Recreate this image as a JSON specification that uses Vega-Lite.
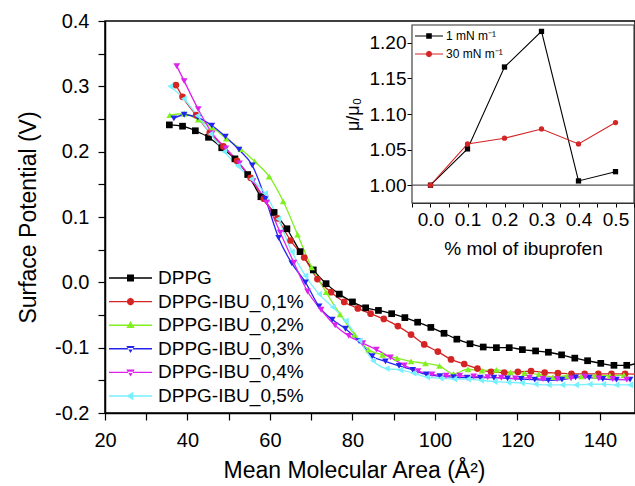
{
  "$schema": "https://vega.github.io/schema/vega-lite/v6.json",
  "width": 530,
  "height": 392,
  "autosize": "none",
  "padding": {"left": 105, "top": 21, "right": 0, "bottom": 73},
  "config": {
    "font": "Liberation Sans",
    "view": {"stroke": "black", "strokeWidth": 1.5},
    "axis": {"domainColor": "black", "domainWidth": 1.5, "tickColor": "black", "tickWidth": 1.2, "labelColor": "black", "titleColor": "black", "titleFontWeight": "normal", "grid": false, "labelFont": "Liberation Sans", "titleFont": "Liberation Sans", "labelOverlap": false, "labelFlush": false},
    "legend": {"labelFont": "Liberation Sans", "padding": 0, "labelColor": "black"}
  },
  "datasets": {
    "main": [
      {"series": "DPPG", "area": 35.6, "potential": 0.241},
      {"series": "DPPG", "area": 38.8, "potential": 0.239},
      {"series": "DPPG", "area": 41.9, "potential": 0.232},
      {"series": "DPPG", "area": 45.1, "potential": 0.222},
      {"series": "DPPG", "area": 48.3, "potential": 0.206},
      {"series": "DPPG", "area": 51.5, "potential": 0.189},
      {"series": "DPPG", "area": 54.6, "potential": 0.165},
      {"series": "DPPG", "area": 57.8, "potential": 0.131},
      {"series": "DPPG", "area": 61.0, "potential": 0.107},
      {"series": "DPPG", "area": 64.1, "potential": 0.082},
      {"series": "DPPG", "area": 67.3, "potential": 0.047},
      {"series": "DPPG", "area": 70.5, "potential": 0.019},
      {"series": "DPPG", "area": 73.6, "potential": -0.002},
      {"series": "DPPG", "area": 76.8, "potential": -0.018},
      {"series": "DPPG", "area": 80.0, "potential": -0.030},
      {"series": "DPPG", "area": 83.2, "potential": -0.039},
      {"series": "DPPG", "area": 86.3, "potential": -0.043},
      {"series": "DPPG", "area": 89.5, "potential": -0.048},
      {"series": "DPPG", "area": 92.7, "potential": -0.054},
      {"series": "DPPG", "area": 95.8, "potential": -0.061},
      {"series": "DPPG", "area": 99.0, "potential": -0.069},
      {"series": "DPPG", "area": 102.2, "potential": -0.078},
      {"series": "DPPG", "area": 105.3, "potential": -0.087},
      {"series": "DPPG", "area": 108.5, "potential": -0.094},
      {"series": "DPPG", "area": 111.7, "potential": -0.099},
      {"series": "DPPG", "area": 114.9, "potential": -0.100},
      {"series": "DPPG", "area": 118.0, "potential": -0.100},
      {"series": "DPPG", "area": 121.2, "potential": -0.103},
      {"series": "DPPG", "area": 124.4, "potential": -0.105},
      {"series": "DPPG", "area": 127.5, "potential": -0.107},
      {"series": "DPPG", "area": 130.7, "potential": -0.111},
      {"series": "DPPG", "area": 133.9, "potential": -0.116},
      {"series": "DPPG", "area": 137.0, "potential": -0.120},
      {"series": "DPPG", "area": 140.2, "potential": -0.124},
      {"series": "DPPG", "area": 143.4, "potential": -0.127},
      {"series": "DPPG", "area": 146.5, "potential": -0.127},
      {"series": "DPPG", "area": 149.7, "potential": -0.122},

      {"series": "DPPG-IBU_0,1%", "area": 37.2, "potential": 0.302},
      {"series": "DPPG-IBU_0,1%", "area": 38.8, "potential": 0.284},
      {"series": "DPPG-IBU_0,1%", "area": 42.1, "potential": 0.256},
      {"series": "DPPG-IBU_0,1%", "area": 45.4, "potential": 0.229},
      {"series": "DPPG-IBU_0,1%", "area": 48.7, "potential": 0.208},
      {"series": "DPPG-IBU_0,1%", "area": 52.0, "potential": 0.186},
      {"series": "DPPG-IBU_0,1%", "area": 55.3, "potential": 0.160},
      {"series": "DPPG-IBU_0,1%", "area": 58.5, "potential": 0.128},
      {"series": "DPPG-IBU_0,1%", "area": 61.8, "potential": 0.098},
      {"series": "DPPG-IBU_0,1%", "area": 65.0, "potential": 0.064},
      {"series": "DPPG-IBU_0,1%", "area": 68.3, "potential": 0.038},
      {"series": "DPPG-IBU_0,1%", "area": 71.5, "potential": 0.005},
      {"series": "DPPG-IBU_0,1%", "area": 74.8, "potential": -0.015},
      {"series": "DPPG-IBU_0,1%", "area": 78.0, "potential": -0.030},
      {"series": "DPPG-IBU_0,1%", "area": 81.3, "potential": -0.040},
      {"series": "DPPG-IBU_0,1%", "area": 84.4, "potential": -0.048},
      {"series": "DPPG-IBU_0,1%", "area": 87.6, "potential": -0.056},
      {"series": "DPPG-IBU_0,1%", "area": 91.0, "potential": -0.067},
      {"series": "DPPG-IBU_0,1%", "area": 94.2, "potential": -0.080},
      {"series": "DPPG-IBU_0,1%", "area": 97.4, "potential": -0.095},
      {"series": "DPPG-IBU_0,1%", "area": 100.7, "potential": -0.106},
      {"series": "DPPG-IBU_0,1%", "area": 103.9, "potential": -0.118},
      {"series": "DPPG-IBU_0,1%", "area": 107.1, "potential": -0.125},
      {"series": "DPPG-IBU_0,1%", "area": 110.3, "potential": -0.132},
      {"series": "DPPG-IBU_0,1%", "area": 113.6, "potential": -0.137},
      {"series": "DPPG-IBU_0,1%", "area": 116.8, "potential": -0.138},
      {"series": "DPPG-IBU_0,1%", "area": 120.1, "potential": -0.137},
      {"series": "DPPG-IBU_0,1%", "area": 123.3, "potential": -0.136},
      {"series": "DPPG-IBU_0,1%", "area": 126.6, "potential": -0.138},
      {"series": "DPPG-IBU_0,1%", "area": 129.8, "potential": -0.139},
      {"series": "DPPG-IBU_0,1%", "area": 133.1, "potential": -0.140},
      {"series": "DPPG-IBU_0,1%", "area": 136.3, "potential": -0.140},
      {"series": "DPPG-IBU_0,1%", "area": 139.6, "potential": -0.140},
      {"series": "DPPG-IBU_0,1%", "area": 142.8, "potential": -0.140},
      {"series": "DPPG-IBU_0,1%", "area": 146.1, "potential": -0.140},
      {"series": "DPPG-IBU_0,1%", "area": 149.3, "potential": -0.141},

      {"series": "DPPG-IBU_0,2%", "area": 35.7, "potential": 0.256},
      {"series": "DPPG-IBU_0,2%", "area": 39.2, "potential": 0.258},
      {"series": "DPPG-IBU_0,2%", "area": 42.6, "potential": 0.249},
      {"series": "DPPG-IBU_0,2%", "area": 46.0, "potential": 0.237},
      {"series": "DPPG-IBU_0,2%", "area": 49.4, "potential": 0.220},
      {"series": "DPPG-IBU_0,2%", "area": 52.9, "potential": 0.204},
      {"series": "DPPG-IBU_0,2%", "area": 56.3, "potential": 0.185},
      {"series": "DPPG-IBU_0,2%", "area": 59.8, "potential": 0.162},
      {"series": "DPPG-IBU_0,2%", "area": 63.2, "potential": 0.124},
      {"series": "DPPG-IBU_0,2%", "area": 66.7, "potential": 0.073},
      {"series": "DPPG-IBU_0,2%", "area": 70.1, "potential": 0.023},
      {"series": "DPPG-IBU_0,2%", "area": 73.6, "potential": -0.015},
      {"series": "DPPG-IBU_0,2%", "area": 77.0, "potential": -0.049},
      {"series": "DPPG-IBU_0,2%", "area": 80.5, "potential": -0.080},
      {"series": "DPPG-IBU_0,2%", "area": 83.9, "potential": -0.103},
      {"series": "DPPG-IBU_0,2%", "area": 87.3, "potential": -0.111},
      {"series": "DPPG-IBU_0,2%", "area": 90.8, "potential": -0.116},
      {"series": "DPPG-IBU_0,2%", "area": 94.2, "potential": -0.121},
      {"series": "DPPG-IBU_0,2%", "area": 97.7, "potential": -0.124},
      {"series": "DPPG-IBU_0,2%", "area": 101.1, "potential": -0.128},
      {"series": "DPPG-IBU_0,2%", "area": 104.5, "potential": -0.140},
      {"series": "DPPG-IBU_0,2%", "area": 108.0, "potential": -0.133},
      {"series": "DPPG-IBU_0,2%", "area": 111.4, "potential": -0.135},
      {"series": "DPPG-IBU_0,2%", "area": 114.9, "potential": -0.134},
      {"series": "DPPG-IBU_0,2%", "area": 118.3, "potential": -0.138},
      {"series": "DPPG-IBU_0,2%", "area": 121.7, "potential": -0.139},
      {"series": "DPPG-IBU_0,2%", "area": 125.2, "potential": -0.141},
      {"series": "DPPG-IBU_0,2%", "area": 128.6, "potential": -0.145},
      {"series": "DPPG-IBU_0,2%", "area": 132.1, "potential": -0.143},
      {"series": "DPPG-IBU_0,2%", "area": 135.5, "potential": -0.144},
      {"series": "DPPG-IBU_0,2%", "area": 138.9, "potential": -0.143},
      {"series": "DPPG-IBU_0,2%", "area": 142.4, "potential": -0.143},
      {"series": "DPPG-IBU_0,2%", "area": 145.8, "potential": -0.142},

      {"series": "DPPG-IBU_0,3%", "area": 36.7, "potential": 0.251},
      {"series": "DPPG-IBU_0,3%", "area": 39.2, "potential": 0.2565},
      {"series": "DPPG-IBU_0,3%", "area": 42.5, "potential": 0.252},
      {"series": "DPPG-IBU_0,3%", "area": 45.9, "potential": 0.240},
      {"series": "DPPG-IBU_0,3%", "area": 49.2, "potential": 0.223},
      {"series": "DPPG-IBU_0,3%", "area": 52.5, "potential": 0.203},
      {"series": "DPPG-IBU_0,3%", "area": 55.7, "potential": 0.179},
      {"series": "DPPG-IBU_0,3%", "area": 58.9, "potential": 0.128},
      {"series": "DPPG-IBU_0,3%", "area": 62.1, "potential": 0.068},
      {"series": "DPPG-IBU_0,3%", "area": 65.3, "potential": 0.029},
      {"series": "DPPG-IBU_0,3%", "area": 68.6, "potential": 0.000},
      {"series": "DPPG-IBU_0,3%", "area": 71.9, "potential": -0.037},
      {"series": "DPPG-IBU_0,3%", "area": 75.1, "potential": -0.057},
      {"series": "DPPG-IBU_0,3%", "area": 78.3, "potential": -0.071},
      {"series": "DPPG-IBU_0,3%", "area": 81.6, "potential": -0.090},
      {"series": "DPPG-IBU_0,3%", "area": 84.8, "potential": -0.113},
      {"series": "DPPG-IBU_0,3%", "area": 88.0, "potential": -0.121},
      {"series": "DPPG-IBU_0,3%", "area": 91.3, "potential": -0.128},
      {"series": "DPPG-IBU_0,3%", "area": 94.6, "potential": -0.134},
      {"series": "DPPG-IBU_0,3%", "area": 97.9, "potential": -0.141},
      {"series": "DPPG-IBU_0,3%", "area": 101.2, "potential": -0.1435},
      {"series": "DPPG-IBU_0,3%", "area": 104.5, "potential": -0.145},
      {"series": "DPPG-IBU_0,3%", "area": 107.8, "potential": -0.146},
      {"series": "DPPG-IBU_0,3%", "area": 111.0, "potential": -0.146},
      {"series": "DPPG-IBU_0,3%", "area": 114.3, "potential": -0.146},
      {"series": "DPPG-IBU_0,3%", "area": 117.6, "potential": -0.147},
      {"series": "DPPG-IBU_0,3%", "area": 120.9, "potential": -0.148},
      {"series": "DPPG-IBU_0,3%", "area": 124.2, "potential": -0.149},
      {"series": "DPPG-IBU_0,3%", "area": 127.5, "potential": -0.150},
      {"series": "DPPG-IBU_0,3%", "area": 130.8, "potential": -0.149},
      {"series": "DPPG-IBU_0,3%", "area": 134.1, "potential": -0.1455},
      {"series": "DPPG-IBU_0,3%", "area": 137.4, "potential": -0.146},
      {"series": "DPPG-IBU_0,3%", "area": 140.7, "potential": -0.148},
      {"series": "DPPG-IBU_0,3%", "area": 144.0, "potential": -0.149},
      {"series": "DPPG-IBU_0,3%", "area": 147.3, "potential": -0.149},

      {"series": "DPPG-IBU_0,4%", "area": 37.4, "potential": 0.331},
      {"series": "DPPG-IBU_0,4%", "area": 39.2, "potential": 0.308},
      {"series": "DPPG-IBU_0,4%", "area": 42.6, "potential": 0.265},
      {"series": "DPPG-IBU_0,4%", "area": 46.0, "potential": 0.228},
      {"series": "DPPG-IBU_0,4%", "area": 49.3, "potential": 0.205},
      {"series": "DPPG-IBU_0,4%", "area": 52.6, "potential": 0.182},
      {"series": "DPPG-IBU_0,4%", "area": 55.9, "potential": 0.155},
      {"series": "DPPG-IBU_0,4%", "area": 59.2, "potential": 0.122},
      {"series": "DPPG-IBU_0,4%", "area": 62.5, "potential": 0.076},
      {"series": "DPPG-IBU_0,4%", "area": 65.8, "potential": 0.030},
      {"series": "DPPG-IBU_0,4%", "area": 69.1, "potential": -0.014},
      {"series": "DPPG-IBU_0,4%", "area": 72.4, "potential": -0.042},
      {"series": "DPPG-IBU_0,4%", "area": 75.8, "potential": -0.066},
      {"series": "DPPG-IBU_0,4%", "area": 79.1, "potential": -0.082},
      {"series": "DPPG-IBU_0,4%", "area": 82.5, "potential": -0.093},
      {"series": "DPPG-IBU_0,4%", "area": 85.8, "potential": -0.103},
      {"series": "DPPG-IBU_0,4%", "area": 89.2, "potential": -0.115},
      {"series": "DPPG-IBU_0,4%", "area": 92.6, "potential": -0.127},
      {"series": "DPPG-IBU_0,4%", "area": 95.9, "potential": -0.136},
      {"series": "DPPG-IBU_0,4%", "area": 99.3, "potential": -0.141},
      {"series": "DPPG-IBU_0,4%", "area": 102.7, "potential": -0.143},
      {"series": "DPPG-IBU_0,4%", "area": 106.0, "potential": -0.143},
      {"series": "DPPG-IBU_0,4%", "area": 109.4, "potential": -0.144},
      {"series": "DPPG-IBU_0,4%", "area": 112.8, "potential": -0.145},
      {"series": "DPPG-IBU_0,4%", "area": 116.1, "potential": -0.146},
      {"series": "DPPG-IBU_0,4%", "area": 119.5, "potential": -0.147},
      {"series": "DPPG-IBU_0,4%", "area": 122.9, "potential": -0.146},
      {"series": "DPPG-IBU_0,4%", "area": 126.2, "potential": -0.148},
      {"series": "DPPG-IBU_0,4%", "area": 129.6, "potential": -0.148},
      {"series": "DPPG-IBU_0,4%", "area": 133.0, "potential": -0.147},
      {"series": "DPPG-IBU_0,4%", "area": 136.4, "potential": -0.1445},
      {"series": "DPPG-IBU_0,4%", "area": 139.7, "potential": -0.147},
      {"series": "DPPG-IBU_0,4%", "area": 143.1, "potential": -0.148},
      {"series": "DPPG-IBU_0,4%", "area": 146.5, "potential": -0.149},

      {"series": "DPPG-IBU_0,5%", "area": 35.8, "potential": 0.300},
      {"series": "DPPG-IBU_0,5%", "area": 39.1, "potential": 0.281},
      {"series": "DPPG-IBU_0,5%", "area": 42.4, "potential": 0.255},
      {"series": "DPPG-IBU_0,5%", "area": 45.6, "potential": 0.227},
      {"series": "DPPG-IBU_0,5%", "area": 48.9, "potential": 0.200},
      {"series": "DPPG-IBU_0,5%", "area": 52.2, "potential": 0.178},
      {"series": "DPPG-IBU_0,5%", "area": 55.5, "potential": 0.158},
      {"series": "DPPG-IBU_0,5%", "area": 58.8, "potential": 0.136},
      {"series": "DPPG-IBU_0,5%", "area": 62.0, "potential": 0.097},
      {"series": "DPPG-IBU_0,5%", "area": 65.3, "potential": 0.047},
      {"series": "DPPG-IBU_0,5%", "area": 68.6, "potential": 0.010},
      {"series": "DPPG-IBU_0,5%", "area": 71.9, "potential": -0.018},
      {"series": "DPPG-IBU_0,5%", "area": 75.2, "potential": -0.038},
      {"series": "DPPG-IBU_0,5%", "area": 78.4, "potential": -0.059},
      {"series": "DPPG-IBU_0,5%", "area": 81.7, "potential": -0.089},
      {"series": "DPPG-IBU_0,5%", "area": 85.0, "potential": -0.120},
      {"series": "DPPG-IBU_0,5%", "area": 88.3, "potential": -0.132},
      {"series": "DPPG-IBU_0,5%", "area": 91.6, "potential": -0.134},
      {"series": "DPPG-IBU_0,5%", "area": 94.8, "potential": -0.139},
      {"series": "DPPG-IBU_0,5%", "area": 98.1, "potential": -0.145},
      {"series": "DPPG-IBU_0,5%", "area": 101.4, "potential": -0.147},
      {"series": "DPPG-IBU_0,5%", "area": 104.7, "potential": -0.148},
      {"series": "DPPG-IBU_0,5%", "area": 108.0, "potential": -0.148},
      {"series": "DPPG-IBU_0,5%", "area": 111.2, "potential": -0.150},
      {"series": "DPPG-IBU_0,5%", "area": 114.5, "potential": -0.152},
      {"series": "DPPG-IBU_0,5%", "area": 117.8, "potential": -0.153},
      {"series": "DPPG-IBU_0,5%", "area": 121.1, "potential": -0.154},
      {"series": "DPPG-IBU_0,5%", "area": 124.4, "potential": -0.156},
      {"series": "DPPG-IBU_0,5%", "area": 127.6, "potential": -0.157},
      {"series": "DPPG-IBU_0,5%", "area": 130.9, "potential": -0.157},
      {"series": "DPPG-IBU_0,5%", "area": 134.2, "potential": -0.157},
      {"series": "DPPG-IBU_0,5%", "area": 137.5, "potential": -0.156},
      {"series": "DPPG-IBU_0,5%", "area": 140.8, "potential": -0.156},
      {"series": "DPPG-IBU_0,5%", "area": 144.0, "potential": -0.157},
      {"series": "DPPG-IBU_0,5%", "area": 147.3, "potential": -0.157}
    ],
    "inset": [
      {"pressure": "1 mN m⁻¹", "mol": 0.0, "ratio": 1.000},
      {"pressure": "1 mN m⁻¹", "mol": 0.1, "ratio": 1.051},
      {"pressure": "1 mN m⁻¹", "mol": 0.2, "ratio": 1.166},
      {"pressure": "1 mN m⁻¹", "mol": 0.3, "ratio": 1.216},
      {"pressure": "1 mN m⁻¹", "mol": 0.4, "ratio": 1.006},
      {"pressure": "1 mN m⁻¹", "mol": 0.5, "ratio": 1.019},
      {"pressure": "30 mN m⁻¹", "mol": 0.0, "ratio": 1.000},
      {"pressure": "30 mN m⁻¹", "mol": 0.1, "ratio": 1.058},
      {"pressure": "30 mN m⁻¹", "mol": 0.2, "ratio": 1.066},
      {"pressure": "30 mN m⁻¹", "mol": 0.3, "ratio": 1.079},
      {"pressure": "30 mN m⁻¹", "mol": 0.4, "ratio": 1.058},
      {"pressure": "30 mN m⁻¹", "mol": 0.5, "ratio": 1.088}
    ]
  },
  "layer": [
    {
      "data": {"name": "main"},
      "encoding": {
        "x": {
          "field": "area", "type": "quantitative",
          "scale": {"domain": [20, 148.5], "nice": false, "zero": false},
          "axis": {
            "orient": "bottom",
            "values": [20, 30, 40, 50, 60, 70, 80, 90, 100, 110, 120, 130, 140],
            "labelExpr": "datum.value % 20 == 0 ? datum.label : ''",
            "tickSize": 7, "labelPadding": 10, "labelFontSize": 20,
            "title": "Mean Molecular Area (Å²)", "titleFontSize": 23, "titlePadding": 9, "titleX": 249,
            "encode": {"ticks": {"update": {"y2": {"signal": "datum.value % 20 == 0 ? 7 : 4"}}}}
          }
        },
        "y": {
          "field": "potential", "type": "quantitative",
          "scale": {"domain": [-0.2, 0.4], "nice": false, "zero": false},
          "axis": {
            "orient": "left",
            "values": [-0.2, -0.15, -0.1, -0.05, 0, 0.05, 0.1, 0.15, 0.2, 0.25, 0.3, 0.35, 0.4],
            "labelExpr": "abs(round(datum.value * 20)) % 2 == 0 ? replace(format(datum.value, '.1f'), '−', '-') : ''",
            "tickSize": 7, "labelPadding": 9, "labelFontSize": 20,
            "title": "Surface Potential (V)", "titleFontSize": 23, "titlePadding": 14,
            "encode": {"ticks": {"update": {"x2": {"signal": "abs(round(datum.value * 20)) % 2 == 0 ? -7 : -4"}}}}
          }
        }
      },
      "layer": [
        {
          "mark": {"type": "line", "clip": true, "strokeWidth": 1.3, "interpolate": "monotone"},
          "encoding": {
            "color": {
              "field": "series", "type": "nominal",
              "scale": {
                "domain": ["DPPG", "DPPG-IBU_0,1%", "DPPG-IBU_0,2%", "DPPG-IBU_0,3%", "DPPG-IBU_0,4%", "DPPG-IBU_0,5%"],
                "range": ["#000000", "#d42424", "#80f020", "#2424f0", "#dd22ee", "#78f0ff"]
              },
              "legend": {
                "orient": "none", "legendX": 16, "legendY": 247.5, "title": null,
                "labelFontSize": 19, "labelOffset": 18, "rowPadding": 3.6, "symbolSize": 16, "symbolStrokeWidth": 0,
                "encode": {
                  "symbols": {
                    "update": {
                      "shape": {"signal": "['M-10.75,-0.35L10.75,-0.35L10.75,0.35L-10.75,0.35ZM-1.75,-1.75L1.75,-1.75L1.75,1.75L-1.75,1.75Z','M-10.75,-0.35L10.75,-0.35L10.75,0.35L-10.75,0.35ZM1.9,0L1.34,1.34L0,1.9L-1.34,1.34L-1.9,0L-1.34,-1.34L0,-1.9L1.34,-1.34Z','M-10.75,-0.35L10.75,-0.35L10.75,0.35L-10.75,0.35ZM0,-2.1L2.1,1.4L-2.1,1.4Z','M-10.75,-0.35L10.75,-0.35L10.75,0.35L-10.75,0.35ZM0,2.1L2.1,-1.4L-2.1,-1.4Z','M-10.75,-0.35L10.75,-0.35L10.75,0.35L-10.75,0.35ZM0,2.1L2.1,-1.4L-2.1,-1.4Z','M-10.75,-0.35L10.75,-0.35L10.75,0.35L-10.75,0.35ZM-2.1,0L1.4,-2.1L1.4,2.1Z'][indexof(['DPPG','DPPG-IBU_0,1%','DPPG-IBU_0,2%','DPPG-IBU_0,3%','DPPG-IBU_0,4%','DPPG-IBU_0,5%'], datum.value)]"},
                      "fill": {"signal": "['#000000','#d42424','#80f020','#2424f0','#dd22ee','#78f0ff'][indexof(['DPPG','DPPG-IBU_0,1%','DPPG-IBU_0,2%','DPPG-IBU_0,3%','DPPG-IBU_0,4%','DPPG-IBU_0,5%'], datum.value)]"},
                      "fillOpacity": {"value": 1},
                      "size": {"value": 16},
                      "opacity": {"value": 1}
                    }
                  }
                }
              }
            }
          }
        },
        {
          "mark": {"type": "point", "clip": true, "filled": true, "size": 45, "opacity": 1},
          "encoding": {
            "color": {"field": "series", "type": "nominal", "legend": null},
            "shape": {
              "field": "series", "type": "nominal",
              "scale": {
                "range": ["square", "circle", "triangle-up", "triangle-down", "triangle-down", "triangle-left"]
              },
              "legend": null
            }
          }
        }
      ]
    },
    {
      "layer": [
        {
          "data": {"values": [{}]},
          "mark": {"type": "rect", "fill": "white", "stroke": "#333333", "strokeWidth": 1.1},
          "encoding": {
            "x": {
              "datum": -0.05, "type": "quantitative",
              "scale": {"domain": [-0.05, 0.55], "range": [307, 529], "nice": false, "zero": false},
              "axis": {
                "orient": "bottom", "offset": -210, "domainWidth": 1.1, "domainColor": "#333333",
                "values": [-0.05, 0, 0.05, 0.1, 0.15, 0.2, 0.25, 0.3, 0.35, 0.4, 0.45, 0.5, 0.55],
                "labelExpr": "abs(round(datum.value * 20)) % 2 == 0 ? format(datum.value, '.1f') : ''",
                "tickSize": 4, "tickWidth": 1, "labelPadding": 3, "labelFontSize": 19,
                "title": "% mol of ibuprofen", "titleFontSize": 19, "titlePadding": 10,
                "encode": {"ticks": {"update": {"y2": {"signal": "abs(round(datum.value * 20)) % 2 == 0 ? 4 : -2.5"}}}}
              }
            },
            "x2": {"datum": 0.55},
            "y": {
              "datum": 0.975, "type": "quantitative",
              "scale": {"domain": [0.975, 1.225], "range": [182, 4], "nice": false, "zero": false},
              "axis": {
                "orient": "left", "offset": -307, "domainWidth": 1.1, "domainColor": "#333333",
                "values": [1.0, 1.05, 1.1, 1.15, 1.2],
                "format": ".2f",
                "tickSize": 5, "tickWidth": 1, "labelPadding": 1, "labelFontSize": 19,
                "title": "μ/μ₀", "titleFontSize": 18, "titlePadding": 7
              }
            },
            "y2": {"datum": 1.225}
          }
        },
        {
          "data": {"values": [{}]},
          "mark": {"type": "rule", "color": "#555555", "strokeWidth": 1.2},
          "encoding": {
            "x": {"datum": -0.05, "type": "quantitative"},
            "x2": {"datum": 0.55},
            "y": {"datum": 1.0, "type": "quantitative"}
          }
        },
        {
          "data": {"name": "inset"},
          "encoding": {
            "x": {"field": "mol", "type": "quantitative"},
            "y": {"field": "ratio", "type": "quantitative"}
          },
          "layer": [
            {
              "mark": {"type": "line", "strokeWidth": 1.1},
              "encoding": {
                "color": {
                  "field": "pressure", "type": "nominal",
                  "scale": {"domain": ["1 mN m⁻¹", "30 mN m⁻¹"], "range": ["#000000", "#d42424"]},
                  "legend": {
                    "orient": "none", "legendX": 318, "legendY": 9, "title": null,
                    "labelFontSize": 12, "labelOffset": 11, "rowPadding": 6, "symbolSize": 16, "symbolStrokeWidth": 0,
                    "encode": {
                      "symbols": {
                        "update": {
                          "shape": {"signal": "['M-7,-0.28L7,-0.28L7,0.28L-7,0.28ZM-1.4,-1.4L1.4,-1.4L1.4,1.4L-1.4,1.4Z','M-7,-0.28L7,-0.28L7,0.28L-7,0.28ZM1.6,0L1.13,1.13L0,1.6L-1.13,1.13L-1.6,0L-1.13,-1.13L0,-1.6L1.13,-1.13Z'][indexof(['1 mN m⁻¹','30 mN m⁻¹'], datum.value)]"},
                          "fill": {"signal": "['#000000','#d42424'][indexof(['1 mN m⁻¹','30 mN m⁻¹'], datum.value)]"},
                          "fillOpacity": {"value": 1},
                          "size": {"value": 16},
                          "opacity": {"value": 1}
                        }
                      }
                    }
                  }
                }
              }
            },
            {
              "mark": {"type": "point", "filled": true, "size": 28, "opacity": 1},
              "encoding": {
                "color": {"field": "pressure", "type": "nominal", "legend": null},
                "shape": {
                  "field": "pressure", "type": "nominal",
                  "scale": {"range": ["square", "circle"]},
                  "legend": null
                }
              }
            }
          ]
        }
      ]
    }
  ],
  "resolve": {"scale": {"x": "independent", "y": "independent", "color": "independent", "shape": "independent"}}
}
